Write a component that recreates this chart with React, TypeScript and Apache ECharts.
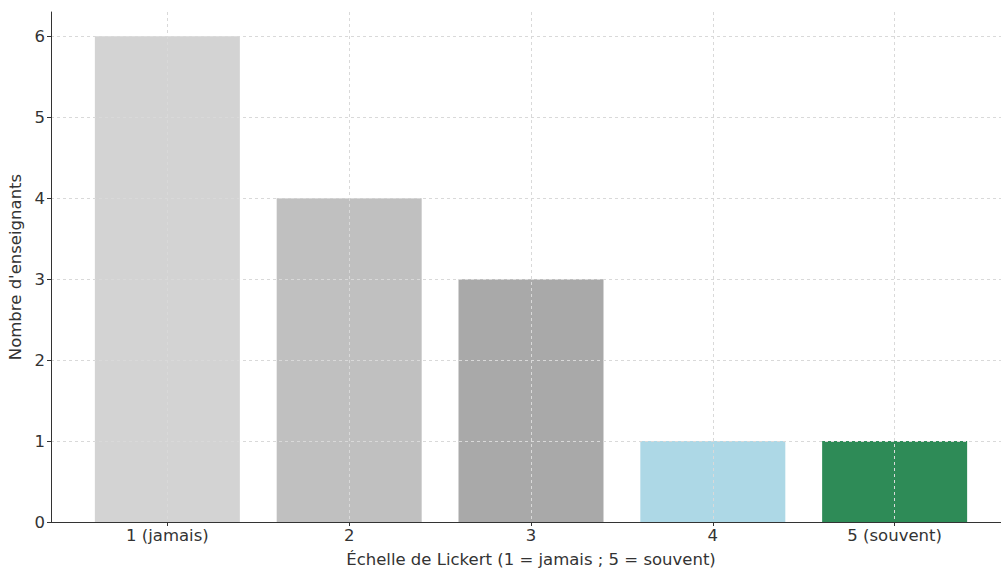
import React, { useEffect, useRef } from "react";
import * as echarts from "echarts";

const categories = ["1 (jamais)", "2", "3", "4", "5 (souvent)"];
const values = [6, 4, 3, 1, 1];
const colors = ["#d3d3d3", "#c0c0c0", "#a9a9a9", "#add8e6", "#2e8b57"];
const yTicks = [0, 1, 2, 3, 4, 5, 6];
const xTitle = "Échelle de Lickert (1 = jamais ; 5 = souvent)";
const yTitle = "Nombre d'enseignants";

const FONT = "DejaVu Sans";

export default function App() {
  const ref = useRef<HTMLDivElement>(null);
  useEffect(() => {
    if (!ref.current) return;
    const chart = echarts.init(ref.current, null, { renderer: "svg" });
    const xIdx = categories.map((_, i) => i);
    chart.setOption({
      animation: false,
      textStyle: { fontFamily: FONT },
      grid: {
        left: 51,
        top: 12,
        width: 960,
        height: 510,
        containLabel: false,
        outerBoundsMode: "none",
      },
      xAxis: {
        type: "value",
        min: -0.64,
        max: 4.64,
        z: 10,
        axisLine: { show: true, onZero: false, lineStyle: { color: "#333", width: 1 } },
        axisTick: { show: true, customValues: xIdx, length: 4, lineStyle: { color: "#333" } },
        axisLabel: {
          customValues: xIdx,
          formatter: (v: number) => categories[Math.round(v)] ?? "",
          fontSize: 16.5,
          color: "#333",
          margin: 5,
          fontFamily: FONT,
        },
        splitLine: { show: true, lineStyle: { color: "#d9d9d9", type: [3, 3], width: 1 } },
        name: xTitle,
        nameLocation: "middle",
        nameGap: 29,
        nameTextStyle: { fontSize: 16.5, color: "#333", fontFamily: FONT },
      },
      yAxis: {
        type: "value",
        min: 0,
        max: 6.3,
        z: 10,
        axisLine: { show: true, onZero: false, lineStyle: { color: "#333", width: 1 } },
        axisTick: { show: true, customValues: yTicks, length: 4, lineStyle: { color: "#333" } },
        axisLabel: {
          customValues: yTicks,
          fontSize: 16.5,
          color: "#333",
          margin: 6,
          fontFamily: FONT,
        },
        splitLine: { show: true, lineStyle: { color: "#d9d9d9", type: [3, 3], width: 1 } },
        name: yTitle,
        nameLocation: "middle",
        nameGap: 19,
        nameTextStyle: { fontSize: 16.5, color: "#333", fontFamily: FONT },
      },
      series: [
        {
          type: "bar",
          barWidth: 145,
          data: values.map((v, i) => ({ value: [i, v], itemStyle: { color: colors[i] } })),
        },
      ],
    });
    return () => chart.dispose();
  }, []);
  return (
    <div
      ref={ref}
      style={{ position: "fixed", left: 0, top: 0, width: 1001, height: 571, background: "#fff" }}
    />
  );
}
